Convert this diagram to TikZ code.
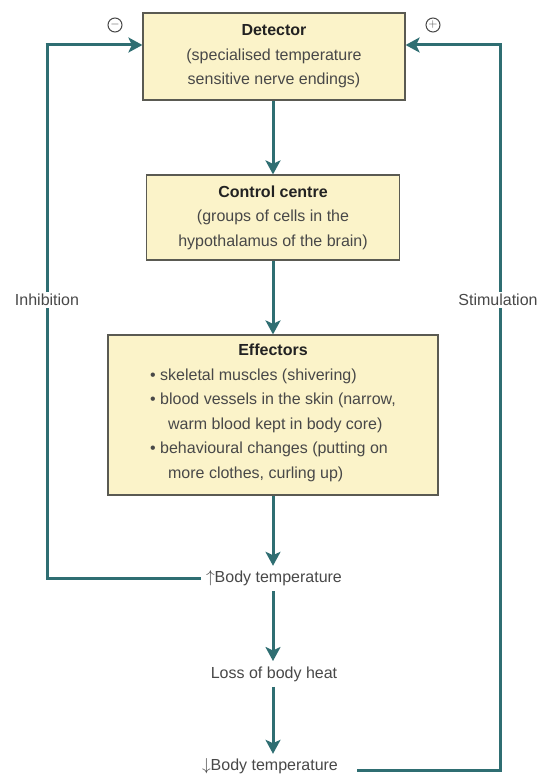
\documentclass[tikz,border=0pt]{standalone}
\usepackage{fontspec}
\setmainfont{Liberation Sans}
\usetikzlibrary{arrows.meta}
\definecolor{teal1}{HTML}{2F6E72}
\definecolor{boxfill}{HTML}{FBF3C9}
\definecolor{boxline}{HTML}{5A5A52}
\definecolor{txt}{HTML}{484848}
\definecolor{head}{HTML}{222222}
\newcommand{\hd}[1]{\textcolor{head}{\textbf{#1}}}
\begin{document}
\begin{tikzpicture}[x=1pt,y=-1pt,
  every node/.style={text=txt,font=\fontsize{16}{24.5}\selectfont},
  box/.style={draw=boxline,line width=1.2pt,fill=boxfill,inner sep=0pt,align=center},
  conn/.style={draw=teal1,line width=3pt},
  arr/.style={conn,-{Stealth[length=14pt,width=15pt,inset=3.5pt]}},
  lbl/.style={fill=white,inner sep=2pt},
  sign/.style={circle,draw=txt,line width=1pt,inner sep=0pt,minimum size=14pt,font=\fontsize{12}{12}\selectfont}]
\useasboundingbox (0,0) rectangle (540,775);
\fill[white] (0,0) rectangle (540,775);
\node[box,minimum width=262pt,minimum height=87pt] (det) at (274,56.5) {\hd{Detector}\\(specialised temperature\\sensitive nerve endings)};
\node[box,minimum width=253pt,minimum height=85pt] (ctl) at (273,217.5) {\hd{Control centre}\\(groups of cells in the\\hypothalamus of the brain)};
\node[box,minimum width=330pt,minimum height=160pt] (eff) at (273,415) {\hd{Effectors}\\
  \begin{tabular}[t]{@{}l@{}}
  \textbullet\ skeletal muscles (shivering)\\
  \textbullet\ blood vessels in the skin (narrow,\\
  \hspace{18pt}warm blood kept in body core)\\
  \textbullet\ behavioural changes (putting on\\
  \hspace{18pt}more clothes, curling up)
  \end{tabular}};
\node (up) at (274,578) {$\uparrow$Body temperature};
\node (loss) at (274,674) {Loss of body heat};
\node (down) at (270,766) {$\downarrow$Body temperature};
\node[sign] (minus) at (115,25) {$-$};
\node[sign] (plus) at (433,25) {$+$};
\coordinate (lt) at (47,45);
\coordinate (lb) at (47,578);
\coordinate (rt) at (500,45);
\coordinate (rb) at (500,770);
\coordinate (db) at (357,770);
\draw[arr] (det.south -| 273,0) -- (ctl.north -| 273,0);
\draw[arr] (ctl.south -| 273,0) -- (eff.north -| 273,0);
\draw[arr] (eff.south -| 273,0) -- ([yshift=1pt]up.north -| 273,0);
\draw[arr] ([yshift=-2pt]up.south -| 273,0) -- ([yshift=2pt]loss.north -| 273,0);
\draw[arr] ([yshift=-2pt]loss.south -| 273,0) -- ([yshift=1pt]down.north -| 273,0);
\draw[conn] ([xshift=-2pt]up.west) -- (lb) -- (lt);
\draw[arr] ([xshift=-1.5pt]lt) -- (det.west |- lt);
\draw[conn] (db) -- (rb) -- (rt);
\draw[arr] ([xshift=1.5pt]rt) -- (det.east |- rt);
\node[lbl] (inh) at (47,300) {Inhibition};
\node[lbl] (stim) at (498,300) {Stimulation};
\end{tikzpicture}
\end{document}
